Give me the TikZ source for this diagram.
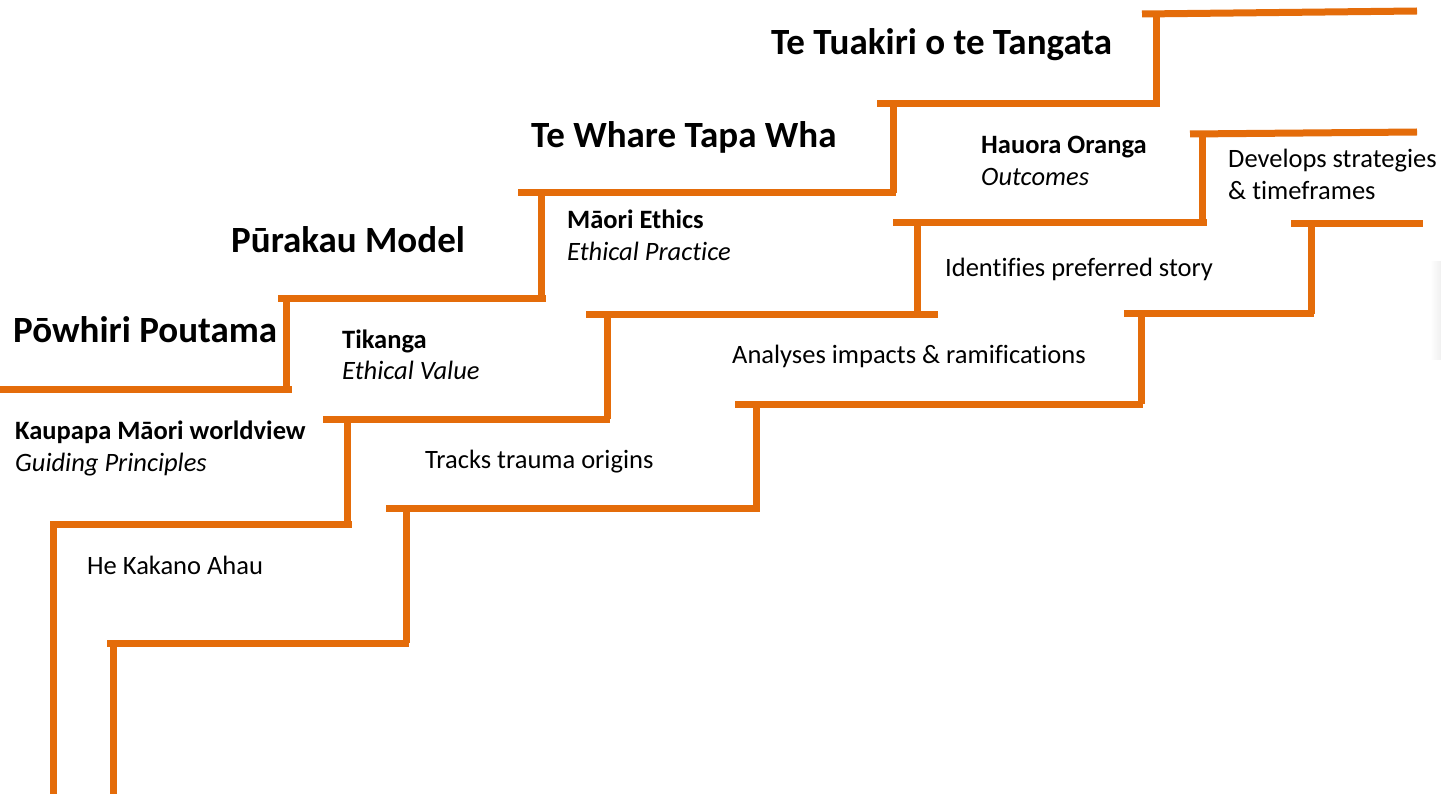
\documentclass[tikz,border=0pt]{standalone}
\usepackage{fontspec}
\setmainfont{Carlito}[Ligatures=NoCommon]
\definecolor{stair}{RGB}{228,108,10}
\begin{document}
\begin{tikzpicture}[x=1pt,y=-1pt,
  stairline/.style={draw=stair,line width=7pt},
  bigtitle/.style={anchor=base west,inner sep=0pt,font=\fontsize{37}{44}\selectfont\bfseries},
  twoline/.style={anchor=base west,inner sep=0pt,align=left,font=\fontsize{26.5}{32}\selectfont},
  plain/.style={anchor=base west,inner sep=0pt,font=\fontsize{26.5}{32}\selectfont}]
\useasboundingbox (0,0) rectangle (1441,794);
\clip (0,0) rectangle (1441,794);
\fill[white] (0,0) rectangle (1441,794);
\shade[left color=white,right color=gray!12] (1430,262) rectangle (1441,360);
% staircase 1
\draw[stairline] (0,389) -- (292,389);
\draw[stairline] (286,389) -- (286,299);
\draw[stairline] (278,299) -- (546,299);
\draw[stairline] (541,299) -- (541,193);
\draw[stairline] (518,193) -- (896,193);
\draw[stairline] (893,193) -- (893,104);
\draw[stairline] (877,104) -- (1160,104);
\draw[stairline] (1156,104) -- (1156,13);
\draw[stairline] (1142,14) -- (1417,11);
% staircase 2
\draw[stairline] (53,794) -- (53,524);
\draw[stairline] (50,524) -- (352,524);
\draw[stairline] (347,524) -- (347,419);
\draw[stairline] (323,419) -- (610,419);
\draw[stairline] (607,419) -- (607,315);
\draw[stairline] (586,315) -- (938,315);
\draw[stairline] (917,315) -- (917,223);
\draw[stairline] (893,223) -- (1207,223);
\draw[stairline] (1202,223) -- (1202,133);
\draw[stairline] (1190,134) -- (1417,132);
% staircase 3
\draw[stairline] (113,794) -- (113,643);
\draw[stairline] (107,643) -- (409,643);
\draw[stairline] (406,643) -- (406,508);
\draw[stairline] (386,508) -- (760,508);
\draw[stairline] (756,508) -- (756,404);
\draw[stairline] (735,404) -- (1143,404);
\draw[stairline] (1141,404) -- (1141,314);
\draw[stairline] (1124,314) -- (1314,314);
\draw[stairline] (1311,314) -- (1311,224);
\draw[stairline] (1291,224) -- (1423,224);
% titles
\node[bigtitle] (t1) at (13,343) {Pōwhiri Poutama};
\node[bigtitle] (t2) at (231,253) {Pūrakau Model};
\node[bigtitle] (t3) at (531,148) {Te Whare Tapa Wha};
\node[bigtitle] (t4) at (771,55) {Te Tuakiri o te Tangata};
% two-line labels (anchored at the baseline of the second line)
\node[twoline] (l1) at (15,471) {\textbf{Kaupapa Māori worldview}\\\textit{Guiding Principles}};
\node[twoline] (l2) at (342,380) {\textbf{Tikanga}\\\textit{Ethical Value}};
\node[twoline] (l3) at (567,261) {\textbf{Māori Ethics}\\\textit{Ethical Practice}};
\node[twoline] (l4) at (981,186) {\textbf{Hauora Oranga}\\\textit{Outcomes}};
% plain labels
\node[plain] (p1) at (87,574) {He Kakano Ahau};
\node[plain] (p2) at (425,468) {Tracks trauma origins};
\node[plain] (p3) at (732,363) {Analyses impacts \& ramifications};
\node[plain] (p4) at (945,277) {Identifies preferred story};
\node[twoline] (p5) at (1228,200) {Develops strategies\\\& timeframes};
\end{tikzpicture}
\end{document}
